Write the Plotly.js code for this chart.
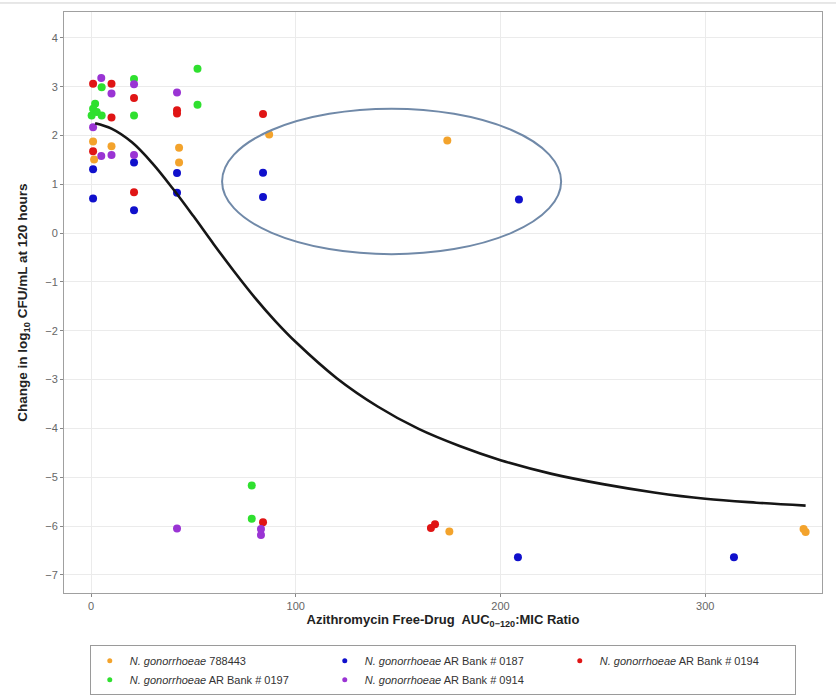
<!DOCTYPE html>
<html>
<head>
<meta charset="utf-8">
<script src="https://cdn.plot.ly/plotly-3.0.1.min.js"></script>
<style>
  html, body { margin: 0; padding: 0; background: #ffffff; }
  #chart { width: 836px; height: 695px; }
</style>
</head>
<body>
<div id="chart"></div>
<script>
// Azithromycin free-drug AUC:MIC ratio vs change in log10 CFU/mL at 120 h

const strainNames = [
  '<i>N. gonorrhoeae</i> 788443',
  '<i>N. gonorrhoeae</i> AR Bank # 0187',
  '<i>N. gonorrhoeae</i> AR Bank # 0194',
  '<i>N. gonorrhoeae</i> AR Bank # 0197',
  '<i>N. gonorrhoeae</i> AR Bank # 0914'
];
const strainColors = ['#f3a32c', '#1010cc', '#e01515', '#2fe02f', '#9a34d4'];

// 788443
const x788443 = [1, 1.5, 10, 43, 43, 87, 174, 175, 348, 349];
const y788443 = [1.88, 1.51, 1.78, 1.75, 1.45, 2.02, 1.90, -6.11, -6.06, -6.12];

// AR Bank # 0187
const x0187 = [1, 1, 21, 21, 42, 42, 84, 84, 209, 208.5, 314];
const y0187 = [1.31, 0.71, 1.45, 0.47, 1.23, 0.83, 1.24, 0.74, 0.69, -6.64, -6.64];

// AR Bank # 0194
const x0194 = [1, 1, 10, 10, 21, 21, 42, 42, 84, 84, 166, 168];
const y0194 = [3.06, 1.68, 3.06, 2.37, 2.77, 0.84, 2.52, 2.45, 2.44, -5.92, -6.04, -5.96];

// AR Bank # 0197
const x0197 = [2, 1, 2.8, 0.3, 5.2, 5.2, 21, 21, 52, 52, 78.5, 78.5];
const y0197 = [2.65, 2.55, 2.48, 2.41, 2.41, 2.99, 3.16, 2.41, 3.37, 2.63, -5.17, -5.85];

// AR Bank # 0914
const x0914 = [5, 10, 21, 1, 5, 10, 21, 42, 42, 83, 83];
const y0914 = [3.18, 2.86, 3.05, 2.17, 1.58, 1.6, 1.6, 2.88, -6.05, -6.06, -6.18];

// Fitted exposure-response curve
const curveX = [2, 10, 20, 30, 40, 50, 60, 70, 80, 90, 100, 120, 140, 160, 180, 200, 225, 250, 275, 300, 325, 349];
const curveY = [2.25, 2.14, 1.86, 1.43, 0.91, 0.35, -0.23, -0.79, -1.32, -1.80, -2.23, -2.97, -3.55, -4.01, -4.36, -4.65, -4.93, -5.14, -5.31, -5.44, -5.52, -5.58];

// Highlighted region (ellipse bounds, data units)
const ellipseX = [64, 229.6];
const ellipseY = [-0.43, 2.55];

const xTickVals = [0, 100, 200, 300];
const yTickVals = [-7, -6, -5, -4, -3, -2, -1, 0, 1, 2, 3, 4];

const seriesX = [x788443, x0187, x0194, x0197, x0914];
const seriesY = [y788443, y0187, y0194, y0197, y0914];

// Data markers (legend entries are drawn by small-marker companion traces)
const traces = seriesX.map((xs, i) => ({
  type: 'scatter',
  mode: 'markers',
  x: xs,
  y: seriesY[i],
  name: strainNames[i],
  legendgroup: 'g' + i,
  marker: { color: strainColors[i], size: 8 },
  showlegend: false
}));

strainNames.forEach((nm, i) => {
  traces.push({
    type: 'scatter',
    mode: 'markers',
    x: [null],
    y: [null],
    name: nm,
    legendgroup: 'g' + i,
    marker: { color: strainColors[i], size: 5 },
    showlegend: true,
    hoverinfo: 'skip'
  });
});

traces.push({
  type: 'scatter',
  mode: 'lines',
  x: curveX,
  y: curveY,
  line: { color: '#161616', width: 2.6, shape: 'spline', smoothing: 1 },
  showlegend: false,
  hoverinfo: 'skip'
});

const layout = {
  width: 836,
  height: 695,
  paper_bgcolor: '#ffffff',
  plot_bgcolor: '#ffffff',
  margin: { l: 64, r: 14, t: 12, b: 102, autoexpand: false },
  font: { family: 'Liberation Sans, Arial, sans-serif', color: '#333333' },
  xaxis: {
    range: [-13.2, 357],
    tickvals: xTickVals,
    ticks: 'outside',
    ticklen: 3,
    tickcolor: '#888888',
    tickfont: { size: 11, color: '#666666' },
    showgrid: true,
    gridcolor: '#ebebeb',
    gridwidth: 1,
    zeroline: false,
    showline: true,
    linecolor: '#a0a0a0',
    linewidth: 1,
    mirror: true,
    automargin: false,
    title: {
      text: '<b>Azithromycin Free-Drug  AUC<sub>0\u2212120</sub>:MIC Ratio</b>',
      font: { size: 13, color: '#222222' },
      standoff: 2
    }
  },
  yaxis: {
    range: [-7.37, 4.53],
    tickvals: yTickVals,
    ticks: 'outside',
    ticklen: 3,
    tickcolor: '#888888',
    tickfont: { size: 11, color: '#666666' },
    showgrid: true,
    gridcolor: '#ebebeb',
    gridwidth: 1,
    zeroline: false,
    showline: true,
    linecolor: '#a0a0a0',
    linewidth: 1,
    mirror: true,
    automargin: false,
    title: {
      text: '<b>Change in log<sub>10</sub> CFU/mL at 120 hours</b>',
      font: { size: 13.5, color: '#222222' },
      standoff: 14
    }
  },
  shapes: [{
    type: 'circle',
    xref: 'x',
    yref: 'y',
    x0: ellipseX[0],
    x1: ellipseX[1],
    y0: ellipseY[0],
    y1: ellipseY[1],
    line: { color: '#7089a8', width: 2 }
  }, {
    // thin rule along the top edge of the figure
    type: 'line',
    xref: 'paper',
    yref: 'paper',
    x0: -0.085,
    x1: 1.02,
    y0: 1.0155,
    y1: 1.0155,
    line: { color: '#cfcfcf', width: 1 }
  }],
  legend: {
    orientation: 'h',
    x: 0.034,
    xanchor: 'left',
    y: -0.09,
    yanchor: 'top',
    bgcolor: '#ffffff',
    bordercolor: '#9a9a9a',
    borderwidth: 1,
    font: { size: 11, color: '#333333' },
    entrywidth: 190,
    entrywidthmode: 'pixels',
    itemsizing: 'trace',
    tracegroupgap: 0
  }
};

Plotly.newPlot('chart', traces, layout, { displayModeBar: false, staticPlot: true });
</script>
</body>
</html>
